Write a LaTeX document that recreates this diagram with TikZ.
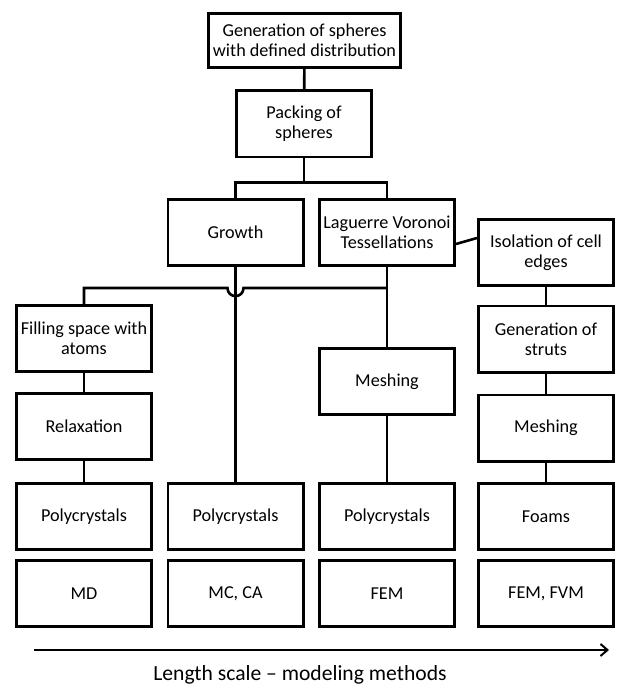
\documentclass[tikz,border=0pt]{standalone}
\usepackage{fontspec}
\setmainfont{Carlito}
\usetikzlibrary{arrows.meta,calc}

\begin{document}
\begin{tikzpicture}[x=1pt,y=-1pt,>={Straight Barb[length=7pt,width=12pt]},
  box/.style={draw,line width=2.6pt,minimum width=135.4pt,minimum height=66.4pt,
    inner sep=1pt,align=center,font=\fontsize{18.2}{20}\selectfont},
  link/.style={line width=2.6pt}]
  \useasboundingbox (0,0) rectangle (621,687);
  % tree top
  \node[box,minimum width=192.4pt,minimum height=54.4pt] (spheres) at (304.5,40.5) {Generation of spheres\\with defined distribution};
  \node[box] (packing) at (304,124) {Packing of\\spheres};
  \node[box] (growth) at (235.5,232.5) {Growth};
  \node[box] (laguerre) at (387,232.5) {Laguerre Voronoi\\Tessellations};
  \node[box] (isolation) at (546,252.5) {Isolation of cell\\edges};
  % left column
  \node[box] (filling) at (84,338.5) {Filling space with\\atoms};
  \node[box] (relax) at (84,426.5) {Relaxation};
  \node[box] (polyA) at (84,516.5) {Polycrystals};
  \node[box] (md) at (84,593.5) {MD};
  % second column
  \node[box] (polyB) at (235.5,516.5) {Polycrystals};
  \node[box] (mcca) at (235.5,593.5) {MC, CA};
  % third column
  \node[box] (meshA) at (387,381.5) {Meshing};
  \node[box] (polyC) at (387,516.5) {Polycrystals};
  \node[box] (fem) at (387,593.5) {FEM};
  % right column
  \node[box] (struts) at (546,339) {Generation of\\struts};
  \node[box] (meshB) at (546,428) {Meshing};
  \node[box] (foams) at (546,516.5) {Foams};
  \node[box] (femfvm) at (546,593.5) {FEM, FVM};

  \draw[link] (spheres) -- (packing);
  \draw[link] (packing.south) -- ++(0,24) coordinate (split);
  \draw[link] (growth.north) |- (split) -| (laguerre.north);
  \draw[link] ($(laguerre.east)+(0,11.5)$) -- ($(isolation.west)+(0,-14.5)$);
  \coordinate (hop) at (growth.south |- 0,288);
  \coordinate (tee) at (laguerre.south |- 0,288);
  \draw[link] (filling.north) |- ([xshift=-8pt]hop)
    .. controls +(0,10.7) and +(0,10.7) .. ([xshift=8pt]hop) -- (tee);
  \draw[link] (growth) -- (polyB);
  \draw[link] (laguerre) -- (meshA);
  \draw[link] (meshA) -- (polyC);
  \draw[link] (filling) -- (relax);
  \draw[link] (relax) -- (polyA);
  \draw[link] (isolation) -- (struts);
  \draw[link] (struts) -- (meshB);
  \draw[link] (meshB) -- (foams);

  \coordinate (axisL) at (34,650);
  \coordinate (axisR) at (609,650);
  \draw[line width=2pt,->] (axisL) -- (axisR);
  \node[font=\fontsize{21.6}{24}\selectfont] (axislabel) at (300,675) {Length scale -- modeling methods};
\end{tikzpicture}
\end{document}
